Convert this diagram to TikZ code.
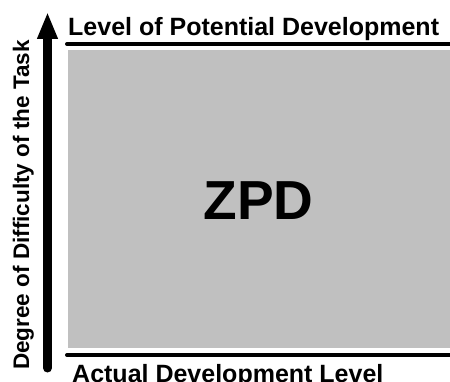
\documentclass[tikz,border=0pt]{standalone}
\usepackage{fontspec}
\setmainfont{Liberation Sans}
\usetikzlibrary{arrows.meta,positioning}
\definecolor{ZoneGray}{HTML}{C0C0C0}

\begin{document}
\begin{tikzpicture}[x=1pt,y=-1pt,
  lbl/.style={font=\fontsize{25}{28}\selectfont\bfseries,inner sep=0pt},
  level/.style={line width=4pt,line cap=round}]
  \useasboundingbox (0,0) rectangle (450,382);
  % the zone between the two levels
  \fill[ZoneGray] (68,50) rectangle (450,348);
  \node[font=\fontsize{55}{60}\selectfont\bfseries,inner sep=0pt] (zpd) at (258.5,201) {ZPD};
  % upper and lower bounds
  \coordinate (potL) at (67,44);
  \coordinate (potR) at (452,44);
  \coordinate (actL) at (67,355);
  \coordinate (actR) at (452,355);
  \draw[level] (potL) -- (potR);
  \draw[level] (actL) -- (actR);
  \node[lbl,anchor=base west] (potential) at (68,36) {Level of Potential Development};
  \node[lbl,anchor=base west] (actual) at (72,382) {Actual Development Level};
  % difficulty axis
  \coordinate (axisLow) at (47.5,368);
  \coordinate (axisHigh) at (47.5,12);
  \draw[line width=9pt,line cap=round,-{Triangle[length=27pt,width=19pt]}] (axisLow) -- (axisHigh);
  \node[font=\fontsize{22.5}{26}\selectfont\bfseries,inner sep=0pt,rotate=90,anchor=base] (difficulty) at (29,205) {Degree of Difficulty of the Task};
\end{tikzpicture}
\end{document}
